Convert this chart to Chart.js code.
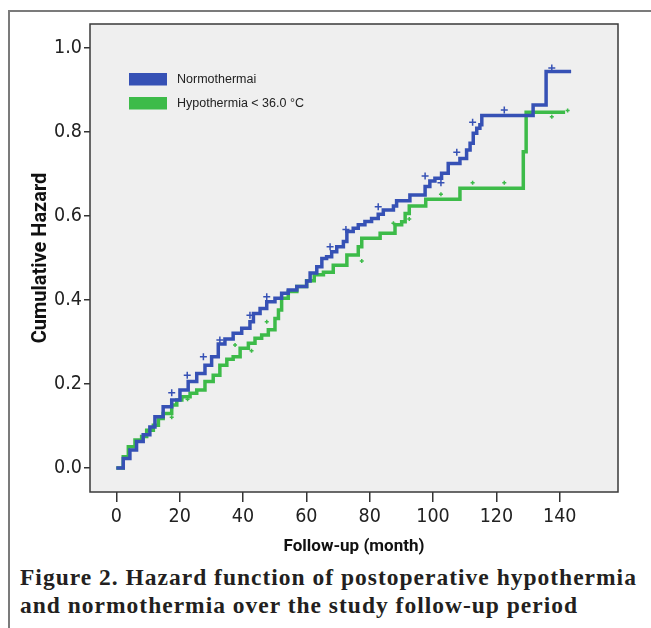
<!DOCTYPE html>
<html>
<head>
<meta charset="utf-8">
<script src="https://cdn.jsdelivr.net/npm/chart.js@4.4.1/dist/chart.umd.min.js"></script>
<style>
  body { margin: 0; background: #fff; }
  #fig { position: relative; width: 651px; height: 628px; overflow: hidden; background: #fff; }
  #frame { position: absolute; left: 8px; top: 10px; width: 700px; height: 700px;
           border-top: 2px solid #7b7b7b; border-left: 2px solid #7b7b7b; }
  #chart { position: absolute; left: 0; top: 0; }
  #caption { position: absolute; left: 20px; top: 563px; white-space: nowrap;
             font: bold 23.5px "Liberation Serif", serif; letter-spacing: 1px;
             line-height: 28px; color: #231f20; }
</style>
</head>
<body>
<div id="fig">
  <div id="frame"></div>
  <canvas id="chart" width="651" height="560"></canvas>
  <div id="caption">Figure 2. Hazard function of postoperative hypothermia<br>and normothermia over the study follow-up period</div>
</div>
<script>
// dados (meses, risco acumulado)
const seriesLabels = ['Normothermai', 'Hypothermia < 36.0 °C'];

const normoMonths = [0, 2.2, 4.3, 6.4, 8.5, 10.6, 12.2, 14.8, 17.5, 20.1, 22.7, 25.4, 28.0, 30.1, 32.2,
  34.3, 36.9, 39.6, 42.2, 43.3, 45.4, 47.5, 50.1, 52.2, 54.3, 57.0, 60.1, 61.2, 63.3, 64.9, 66.4, 68.0,
  69.6, 71.7, 72.8, 74.8, 76.4, 78.5, 80.6, 82.7, 84.3, 87.5, 88.5, 92.7, 97.5, 99.0, 100.6, 102.7,
  104.8, 108.5, 110.6, 111.7, 112.7, 113.8, 114.8, 115.4, 131.6, 135.7, 143.6];
const normoHazard = [0, 0.023, 0.043, 0.063, 0.079, 0.098, 0.122, 0.146, 0.162, 0.186, 0.206, 0.225, 0.245, 0.265, 0.295,
  0.307, 0.321, 0.333, 0.348, 0.368, 0.380, 0.396, 0.404, 0.416, 0.424, 0.432, 0.445, 0.464, 0.479, 0.499, 0.503, 0.515,
  0.527, 0.539, 0.563, 0.571, 0.579, 0.587, 0.594, 0.604, 0.614, 0.624, 0.636, 0.650, 0.670, 0.683, 0.690, 0.702,
  0.725, 0.737, 0.757, 0.773, 0.797, 0.809, 0.817, 0.839, 0.864, 0.944, 0.944];

const hypoMonths = [0, 2.2, 3.8, 5.9, 8.0, 9.6, 11.7, 13.3, 14.8, 17.5, 19.1, 20.7, 23.3, 25.4, 28.0,
  30.6, 32.7, 34.9, 36.9, 39.1, 41.7, 43.8, 45.9, 48.0, 50.1, 51.2, 52.2, 54.3, 57.0, 60.1, 62.5, 65.4,
  68.5, 72.8, 76.4, 77.5, 83.3, 88.0, 90.1, 91.2, 92.5, 97.7, 108.5, 128.5, 129.4, 141.7];
const hypoHazard = [0, 0.027, 0.051, 0.067, 0.075, 0.090, 0.102, 0.118, 0.130, 0.150, 0.162, 0.170, 0.178, 0.186, 0.206,
  0.221, 0.245, 0.259, 0.265, 0.285, 0.297, 0.309, 0.317, 0.329, 0.356, 0.376, 0.404, 0.420, 0.432, 0.446, 0.460, 0.466,
  0.483, 0.507, 0.527, 0.547, 0.559, 0.579, 0.586, 0.606, 0.624, 0.640, 0.666, 0.753, 0.847, 0.847];

// marcas de censura
const normoCensMonths = [17.5, 22.4, 27.5, 32.7, 42.2, 47.5, 67.5, 72.5, 82.7, 97.5, 102.5, 107.5, 112.5, 122.5, 137.5];
const normoCensHazard = [0.179, 0.221, 0.265, 0.305, 0.364, 0.408, 0.527, 0.568, 0.622, 0.695, 0.679, 0.752, 0.823, 0.852, 0.952];
const hypoCensMonths = [17.5, 22.5, 37.5, 42.7, 47.5, 77.5, 87.5, 92.5, 102.5, 112.5, 122.5, 137.5, 142.5];
const hypoCensHazard = [0.121, 0.164, 0.293, 0.279, 0.348, 0.493, 0.583, 0.593, 0.652, 0.679, 0.679, 0.836, 0.851];

const xTicks = [0, 20, 40, 60, 80, 100, 120, 140];
const yTicks = [0, 0.2, 0.4, 0.6, 0.8, 1.0];

const azul = '#3651b5';
const verde = '#3dbb49';

function pares(xs, ys) {
  return xs.map((x, i) => ({ x: x, y: ys[i] }));
}

// fundo cinza e moldura da área do gráfico
const moldura = {
  id: 'moldura',
  beforeDraw(chart) {
    const { ctx, chartArea: a } = chart;
    ctx.save();
    ctx.fillStyle = '#efefef';
    ctx.fillRect(a.left, a.top, a.width, a.height);
    ctx.restore();
  },
  afterDraw(chart) {
    const { ctx, chartArea: a } = chart;
    ctx.save();
    ctx.strokeStyle = '#3a3a3a';
    ctx.lineWidth = 1.5;
    ctx.strokeRect(a.left, a.top, a.width, a.height);
    ctx.restore();
  }
};

// legenda dentro da área do gráfico
const legendaInterna = {
  id: 'legendaInterna',
  afterDraw(chart) {
    const ctx = chart.ctx;
    ctx.save();
    ctx.font = '12.5px "Liberation Sans", Arial, sans-serif';
    ctx.textBaseline = 'middle';
    [0, 1].forEach(i => {
      const ds = chart.data.datasets[i];
      const y = 73 + i * 24;
      ctx.fillStyle = ds.borderColor;
      ctx.fillRect(129, y, 38, 12.5);
      ctx.fillStyle = '#222';
      ctx.fillText(ds.label, 177, y + 6.5);
    });
    ctx.restore();
  }
};

const fonteTicks = { family: "'Liberation Sans Narrow', 'Arial Narrow', 'DejaVu Sans Condensed', sans-serif", size: 19.5 };

new Chart(document.getElementById('chart'), {
  type: 'line',
  data: {
    datasets: [
      { label: seriesLabels[0], data: pares(normoMonths, normoHazard), borderColor: azul,
        borderWidth: 3.5, stepped: 'before', pointRadius: 0, fill: false },
      { label: seriesLabels[1], data: pares(hypoMonths, hypoHazard), borderColor: verde,
        borderWidth: 3.5, stepped: 'before', pointRadius: 0, fill: false },
      { type: 'scatter', label: 'c1', data: pares(normoCensMonths, normoCensHazard), pointStyle: 'cross',
        pointRadius: 3.5, borderColor: azul, borderWidth: 1.5, showLine: false },
      { type: 'scatter', label: 'c2', data: pares(hypoCensMonths, hypoCensHazard), pointStyle: 'cross',
        pointRadius: 2, borderColor: verde, borderWidth: 1.5, showLine: false }
    ]
  },
  options: {
    responsive: false,
    animation: false,
    layout: { padding: { left: 0, top: 24, right: 33, bottom: 0 } },
    plugins: { legend: { display: false }, tooltip: { enabled: false } },
    scales: {
      x: {
        type: 'linear',
        min: -8.3,
        max: 158.4,
        afterBuildTicks: s => { s.ticks = xTicks.map(v => ({ value: v })); },
        afterFit: s => { s.height = 68; },
        grid: { drawOnChartArea: false, tickLength: 10, color: '#333', lineWidth: 1.5 },
        border: { display: false },
        ticks: { font: fonteTicks, color: '#222', padding: 3, maxRotation: 0 },
        title: { display: true, text: 'Follow-up (month)', color: '#111',
                 font: { family: 'Roboto', weight: 'bold', size: 17 }, padding: { top: 0, bottom: 3 } }
      },
      y: {
        min: -0.057,
        max: 1.057,
        afterBuildTicks: s => { s.ticks = yTicks.map(v => ({ value: v })); },
        afterFit: s => { s.width = 90; },
        grid: { drawOnChartArea: false, tickLength: 6, color: '#333', lineWidth: 1.5 },
        border: { display: false },
        ticks: { font: fonteTicks, color: '#222', padding: 2, callback: v => v.toFixed(1) },
        title: { display: true, text: 'Cumulative Hazard', color: '#111',
                 font: { family: 'Roboto', weight: 'bold', size: 20 }, padding: { top: 29, bottom: 0 } }
      }
    }
  },
  plugins: [moldura, legendaInterna]
});
</script>
</body>
</html>
